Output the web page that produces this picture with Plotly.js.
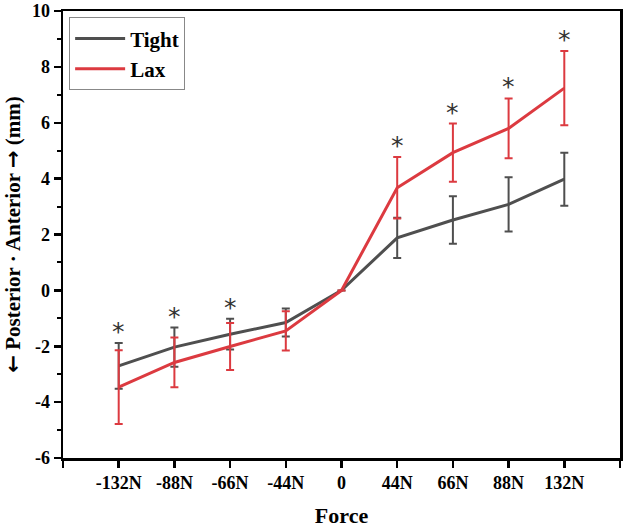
<!DOCTYPE html>
<html>
<head>
<meta charset="utf-8">
<script src="https://cdn.plot.ly/plotly-3.0.1.min.js"></script>
<style>html,body{margin:0;padding:0;background:#fff;}#chart{width:624px;height:528px;}</style>
</head>
<body>
<div id="chart"></div>
<script>
var categories = ['-132N', '-88N', '-66N', '-44N', '0', '44N', '66N', '88N', '132N'];
var tightMean = [-2.70, -2.03, -1.57, -1.15, 0, 1.88, 2.52, 3.08, 3.98];
var tightErr  = [0.82, 0.70, 0.55, 0.50, 0, 0.72, 0.85, 0.97, 0.95];
var laxMean   = [-3.46, -2.58, -2.01, -1.45, 0, 3.67, 4.93, 5.80, 7.24];
var laxErr    = [1.32, 0.89, 0.84, 0.70, 0, 1.10, 1.04, 1.07, 1.33];
var significant = [true, true, true, false, false, true, true, true, true];
var yTicks = [-6, -4, -2, 0, 2, 4, 6, 8, 10];

var idx = categories.map(function (c, i) { return i; });
var gray = '#4f4f4f';
var red = '#dc3a40';
var fontFam = '"Liberation Serif", "Times New Roman", serif';

var traces = [
  {
    x: idx, y: tightMean, name: '<b>Tight</b>', type: 'scatter', mode: 'lines',
    line: {color: gray, width: 3},
    error_y: {type: 'data', array: tightErr, visible: true, color: gray, thickness: 2, width: 4}
  },
  {
    x: idx, y: laxMean, name: '<b>Lax</b>', type: 'scatter', mode: 'lines',
    line: {color: red, width: 3},
    error_y: {type: 'data', array: laxErr, visible: true, color: red, thickness: 2, width: 4}
  }
];

var annotations = [];
idx.forEach(function (i) {
  if (!significant[i]) return;
  var top = Math.max(tightMean[i] + tightErr[i], laxMean[i] + laxErr[i]);
  annotations.push({
    x: i, y: top, xref: 'x', yref: 'y', text: '*', showarrow: false,
    yanchor: 'bottom', yshift: -5,
    font: {family: '"DejaVu Sans", sans-serif', size: 25, color: '#333'}
  });
});

var tickVals = [-1].concat(idx).concat([categories.length]);
var tickText = [''].concat(categories.map(function (c) { return '<b>' + c + '</b>'; })).concat(['']);
var arrowSpan = function (a) { return '<span style="font-family:\'DejaVu Sans\'">' + a + '</span>'; };

var layout = {
  width: 624, height: 528,
  margin: {l: 63, r: 4, t: 11, b: 70},
  paper_bgcolor: '#fff', plot_bgcolor: '#fff',
  font: {family: fontFam, color: '#000'},
  showlegend: true,
  legend: {
    x: 0.011, y: 0.986, xanchor: 'left', yanchor: 'top',
    bgcolor: '#fff', bordercolor: '#888', borderwidth: 1,
    font: {family: fontFam, size: 21, color: '#000'},
    itemwidth: 50, tracegroupgap: 0
  },
  xaxis: {
    range: [-1, categories.length], tickmode: 'array', tickvals: tickVals, ticktext: tickText,
    showgrid: false, zeroline: false,
    showline: true, linecolor: '#000', linewidth: 2.5, mirror: true,
    ticks: 'outside', ticklen: 7, tickwidth: 2.5, tickcolor: '#000',
    tickfont: {family: fontFam, size: 18, color: '#000'},
    ticklabeloverflow: 'allow',
    title: {text: '<b>Force</b>', font: {family: fontFam, size: 22, color: '#000'}, standoff: 20}
  },
  yaxis: {
    range: [-6, 10], tickmode: 'array', tickvals: yTicks,
    ticktext: yTicks.map(function (v) { return '<b>' + v + '</b>'; }),
    showgrid: false, zeroline: false,
    showline: true, linecolor: '#000', linewidth: 2.5, mirror: true,
    ticks: 'outside', ticklen: 7, tickwidth: 2.5, tickcolor: '#000',
    minor: {tickmode: 'linear', dtick: 1, tick0: 0, ticks: 'outside', ticklen: 4, tickwidth: 2, tickcolor: '#000', showgrid: false},
    tickfont: {family: fontFam, size: 18, color: '#000'},
    ticklabeloverflow: 'allow',
    title: {text: '<b>' + arrowSpan('\u2190') + ' Posterior \u00b7 Anterior ' + arrowSpan('\u2192') + ' (mm)</b>', font: {family: fontFam, size: 21, color: '#000'}, standoff: 6}
  },
  annotations: annotations
};

Plotly.newPlot('chart', traces, layout, {displayModeBar: false, staticPlot: true});
</script>
</body>
</html>
